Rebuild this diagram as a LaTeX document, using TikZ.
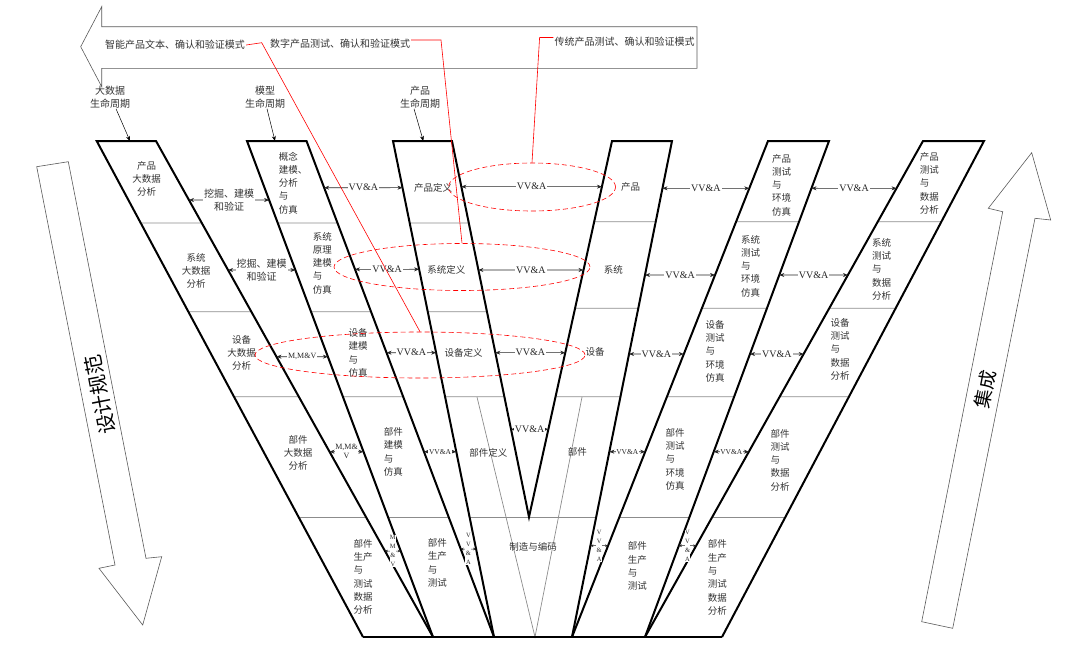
\documentclass[tikz,border=0pt]{standalone}
\usepackage{fontspec}
\setmainfont{Liberation Serif}
\newfontfamily\cjk{Noto Sans CJK SC}
\usepackage{tikz}
\usetikzlibrary{arrows.meta,
shapes.geometric
}
\tikzset{>={Stealth[length=5pt, width=4pt]}}
\tikzset{
  band/.style={line width=2pt, line join=miter},
  rowline/.style={black!45, line width=0.7pt},
  shell/.style={black!65, line width=0.6pt},
  vva/.style={<->, black!85, line width=0.6pt},
  vvs/.style={{Stealth[length=3pt, width=2.6pt]}-{Stealth[length=3pt, width=2.6pt]}, black!85, line width=0.5pt},
  tag/.style={fill=white, inner sep=1pt, font=\fontsize{10}{11}\selectfont},
  tagsm/.style={fill=white, inner sep=0.6pt, font=\fontsize{7.5}{8}\selectfont},
  tagm/.style={fill=white, inner sep=0.6pt, align=center, font=\fontsize{8}{9}\selectfont},
  tagv/.style={fill=white, inner sep=0.4pt, align=center, font=\fontsize{6.5}{9}\selectfont},
  cn/.style={inner sep=0pt, text=black!80, font=\cjk\fontsize{9.5}{13.3}\selectfont},
  cnc/.style={cn, align=center},
  cnl/.style={cn, align=left},
  cnlab/.style={fill=white, inner sep=1pt, align=center, text=black!80, font=\cjk\fontsize{10}{13.3}\selectfont},
  note/.style={inner sep=1pt, align=center, text=black!80, font=\cjk\fontsize{10}{13.3}\selectfont},
  leader/.style={red, line width=0.6pt},
  ring/.style={shape=ellipse, draw=red, dash pattern=on 5pt off 3pt, line width=0.6pt, inner sep=0pt},
  bigword/.style={inner sep=0pt, font=\cjk\fontsize{20}{20}\selectfont},
}

\begin{document}
\begin{tikzpicture}[x=1pt, y=-1pt]
  \useasboundingbox (0,0) rectangle (1080,645);

  % corners of the six bands
  \coordinate (b1tl) at (96.7,141);  \coordinate (b1tr) at (156,141);
  \coordinate (b1bl) at (363,637);   \coordinate (b1br) at (433,637);
  \coordinate (b2tl) at (247,141);   \coordinate (b2tr) at (306.5,141);
  \coordinate (b2bl) at (433,637);   \coordinate (b2br) at (494,637);
  \coordinate (b3tl) at (393,141);   \coordinate (b3tr) at (452,141);
  \coordinate (b3bl) at (494,637);   \coordinate (vtip) at (529,517);
  \coordinate (b4tl) at (612,141);   \coordinate (b4tr) at (672,141);
  \coordinate (b4br) at (572,637);
  \coordinate (b5tl) at (768,141);   \coordinate (b5tr) at (829,141);
  \coordinate (b5bl) at (572,637);   \coordinate (b5br) at (645,637);
  \coordinate (b6tl) at (923,141);   \coordinate (b6tr) at (984,141);
  \coordinate (b6bl) at (645,637);   \coordinate (b6br) at (722,637);

  % rows inside the bands
  \foreach \p/\q/\r/\s in {b1tl/b1bl/b1tr/b1br, b2tl/b2bl/b2tr/b2br}
    \foreach \y in {223, 311.7, 396.7, 517.5}
      \draw[rowline] (intersection of \p--{\q} and 0,\y--1,\y) -- (intersection of \r--{\s} and 0,\y--1,\y);
  \foreach \y in {223, 311.7, 396.7}
    \draw[rowline] (intersection of b3tl--b3bl and 0,\y--1,\y) -- (intersection of b3tr--vtip and 0,\y--1,\y);
  \foreach \y in {221.7, 308.3, 396.7}
    \draw[rowline] (intersection of b4tl--vtip and 0,\y--1,\y) -- (intersection of b4tr--b4br and 0,\y--1,\y);
  \foreach \p/\q/\r/\s in {b5tl/b5bl/b5tr/b5br, b6tl/b6bl/b6tr/b6br}
    \foreach \y in {221.7, 308.3, 396.7, 517.5}
      \draw[rowline] (intersection of \p--{\q} and 0,\y--1,\y) -- (intersection of \r--{\s} and 0,\y--1,\y);
  \draw[rowline] (intersection of b3tl--b3bl and 0,517.5--1,517.5) -- (intersection of b4tr--b4br and 0,517.5--1,517.5);

  % thin V under the definitions
  \coordinate (tv1) at (477,397);
  \coordinate (tv2) at (582,397);
  \coordinate (tvb) at (535,637);
  \draw[rowline] (tv1) -- (tvb) -- (tv2);

  % bands
  \draw[band] (b1bl) -- (b1tl) -- (b1tr) -- (b1br);
  \draw[band] (b2bl) -- (b2tl) -- (b2tr) -- (b2br);
  \draw[band] (b3bl) -- (b3tl) -- (b3tr) -- (vtip) -- (b4tl) -- (b4tr) -- (b4br);
  \draw[band] (b5bl) -- (b5tl) -- (b5tr) -- (b5br);
  \draw[band] (b6bl) -- (b6tl) -- (b6tr) -- (b6br);
  \draw[band] (b1bl) -- (b6br);

  % VV&A between bands
  \foreach \p/\q/\r/\s/\y/\n in {
      b2tr/b2br/b3tl/b3bl/187.7/a1, b2tr/b2br/b3tl/b3bl/269.3/a2, b2tr/b2br/b3tl/b3bl/352.7/a3,
      b3tr/vtip/b4tl/vtip/186.7/m1, b3tr/vtip/b4tl/vtip/270/m2, b3tr/vtip/b4tl/vtip/352.7/m3,
      b3tr/vtip/b4tl/vtip/429.3/m4,
      b4tr/b4br/b5tl/b5bl/188.3/c1, b4tr/b4br/b5tl/b5bl/275/c2, b4tr/b4br/b5tl/b5bl/354/c3,
      b5tr/b5br/b6tl/b6bl/188.3/d1, b5tr/b5br/b6tl/b6bl/275/d2, b5tr/b5br/b6tl/b6bl/354/d3}
  {
    \coordinate (l\n) at (intersection of \p--{\q} and 0,\y--1,\y);
    \coordinate (r\n) at (intersection of \r--{\s} and 0,\y--1,\y);
    \draw[vva] (l\n) -- node[tag] (vv\n) {VV\&A} (r\n);
  }
  \foreach \p/\q/\r/\s/\y/\n in {
      b2tr/b2br/b3tl/b3bl/451.7/a4, b4tr/b4br/b5tl/b5bl/451.7/c4, b5tr/b5br/b6tl/b6bl/451.7/d4}
  {
    \coordinate (l\n) at (intersection of \p--{\q} and 0,\y--1,\y);
    \coordinate (r\n) at (intersection of \r--{\s} and 0,\y--1,\y);
    \draw[vva] (l\n) -- node[tagsm] (vv\n) {VV\&A} (r\n);
  }
  \foreach \p/\q/\r/\s/\y/\n in {
      b2tr/b2br/b3tl/b3bl/549/a5, b4tr/b4br/b5tl/b5bl/545.7/c5, b5tr/b5br/b6tl/b6bl/545.7/d5}
  {
    \coordinate (l\n) at (intersection of \p--{\q} and 0,\y--1,\y);
    \coordinate (r\n) at (intersection of \r--{\s} and 0,\y--1,\y);
    \draw[vvs] (l\n) -- node[tagv] (vv\n) {V\\V\\\&\\A} (r\n);
  }

  % mining and M,M&V between the first two bands
  \coordinate (k1l) at (intersection of b1tr--b1br and 0,200--1,200);
  \coordinate (k1r) at (intersection of b2tl--b2bl and 0,200--1,200);
  \draw[vva] (k1l) -- node[cnlab] (mine1) {挖掘、建模\\和验证} (k1r);
  \coordinate (k2l) at (intersection of b1tr--b1br and 0,270--1,270);
  \coordinate (k2r) at (intersection of b2tl--b2bl and 0,270--1,270);
  \draw[vva] (k2l) -- node[cnlab] (mine2) {挖掘、建模\\和验证} (k2r);
  \coordinate (k3l) at (intersection of b1tr--b1br and 0,356.7--1,356.7);
  \coordinate (k3r) at (intersection of b2tl--b2bl and 0,356.7--1,356.7);
  \draw[vva] (k3l) -- node[tagm] (mmv3) {M,M\&V} (k3r);
  \coordinate (k4l) at (intersection of b1tr--b1br and 0,451.7--1,451.7);
  \coordinate (k4r) at (intersection of b2tl--b2bl and 0,451.7--1,451.7);
  \draw[vva] (k4l) -- node[tagm] (mmv4) {M,M\&\\V} (k4r);
  \coordinate (k5l) at (intersection of b1tr--b1br and 0,551--1,551);
  \coordinate (k5r) at (intersection of b2tl--b2bl and 0,551--1,551);
  \draw[vvs] (k5l) -- node[tagv] (mmv5) {M\\M\\\&\\V} (k5r);

  % big data band
  \node[cnc] (p1r1) at (146.7,179) {产品\\大数据\\分析};
  \node[cnc] (p1r2) at (196,270.7) {系统\\大数据\\分析};
  \node[cnc] (p1r3) at (241.7,353) {设备\\大数据\\分析};
  \node[cnc] (p1r4) at (298,453) {部件\\大数据\\分析};
  \node[cnl] (p1r5) at (363,577) {部件\\生产\\与\\测试\\数据\\分析};
  % model band
  \node[cnl] (p2r1) at (293,183) {概念\\建模、\\分析\\与\\仿真};
  \node[cnl] (p2r2) at (322.4,263) {系统\\原理\\建模\\与\\仿真};
  \node[cnl] (p2r3) at (358,353) {设备\\建模\\与\\仿真};
  \node[cnl] (p2r4) at (393.3,452) {部件\\建模\\与\\仿真};
  \node[cnl] (p2r5) at (437.3,563) {部件\\生产\\与\\测试};
  % definitions and products
  \node[cn] (p3r1) at (433,187.7) {产品定义};
  \node[cn] (p3r2) at (446.4,270) {系统定义};
  \node[cn] (p3r3) at (463.6,352.7) {设备定义};
  \node[cn] (p3r4) at (488.3,453.3) {部件定义};
  \node[cn] (p3r5) at (533,547) {制造与编码};
  \node[cn] (p4r1) at (630.7,186.7) {产品};
  \node[cn] (p4r2) at (613.3,270) {系统};
  \node[cn] (p4r3) at (595,351.7) {设备};
  \node[cn] (p4r4) at (577.3,451.7) {部件};
  % test bands
  \node[cnl] (p5r1) at (781.7,185) {产品\\测试\\与\\环境\\仿真};
  \node[cnl] (p5r2) at (750.7,266) {系统\\测试\\与\\环境\\仿真};
  \node[cnl] (p5r3) at (715,351.3) {设备\\测试\\与\\环境\\仿真};
  \node[cnl] (p5r4) at (675,459.3) {部件\\测试\\与\\环境\\仿真};
  \node[cnl] (p5r5) at (637.3,566.3) {部件\\生产\\与\\测试};
  \node[cnl] (p6r1) at (929.3,183.3) {产品\\测试\\与\\数据\\分析};
  \node[cnl] (p6r2) at (881.7,269.3) {系统\\测试\\与\\数据\\分析};
  \node[cnl] (p6r3) at (840,349.3) {设备\\测试\\与\\数据\\分析};
  \node[cnl] (p6r4) at (780,460) {部件\\测试\\与\\数据\\分析};
  \node[cnl] (p6r5) at (717.3,577.5) {部件\\生产\\与\\测试\\数据\\分析};

  % life cycles
  \node[note, inner sep=0pt] (lc1) at (110,97.3) {大数据\\生命周期};
  \node[note, inner sep=0pt] (lc2) at (265,97.3) {模型\\生命周期};
  \node[note, inner sep=0pt] (lc3) at (420,97.3) {产品\\生命周期};
  \coordinate (b1in) at (130,141);
  \coordinate (b2in) at (275,141);
  \coordinate (b3in) at (423.3,141);
  \draw[->, line width=0.5pt] ([xshift=6pt]lc1.south) -- (b1in);
  \draw[->, line width=0.5pt] ([xshift=2pt]lc2.south) -- (b2in);
  \draw[->, line width=0.5pt] ([xshift=-6pt]lc3.south) -- (b3in);

  % top arrow with the three modes
  \draw[shell] (697,26.7) -- (101.7,26.7) -- (101.7,6.7) -- (80.7,46.7)
    -- (101.7,86.7) -- (101.7,68.3) -- (697,68.3) -- cycle;
  \node[note] (t1) at (175,45) {智能产品文本、确认和验证模式};
  \node[note] (t2) at (340,43.3) {数字产品测试、确认和验证模式};
  \node[note] (t3) at (624.5,41.7) {传统产品测试、确认和验证模式};

  % dashed rings and red leaders
  \node[ring, minimum width=167pt, minimum height=48pt] (ring1) at (532,187) {};
  \node[ring, minimum width=256pt, minimum height=47pt] (ring2) at (462,267) {};
  \node[ring, minimum width=330pt, minimum height=46pt] (ring3) at (420,355) {};
  \coordinate (k1) at (261.7,42.7);
  \coordinate (k2) at (441,40);
  \coordinate (k3) at (539.6,37.5);
  \draw[leader] (t1.east) -- (k1) -- (ring3.north);
  \draw[leader] (t2.east |- k2) -- (k2) -- (ring2.north);
  \draw[leader] (t3.west |- k3) -- (k3) -- (ring1.north);

  % side arrows
  \draw[shell] (36.7,166.7) -- (68.3,161.7) -- (146,558.3) -- (161.7,556.7)
    -- (142.7,625) -- (99,568.3) -- (115,565) -- cycle;
  \node[bigword, rotate=101] (design) at (100,395) {设计规范};
  \draw[shell] (921.7,621.7) -- (952.7,628.3) -- (1035,218.3) -- (1050.7,220)
    -- (1031.7,152.7) -- (988.3,208.3) -- (1002.7,211.7) -- cycle;
  \node[bigword, rotate=79, font=\cjk\fontsize{19}{19}\selectfont] (integ) at (985,389) {集成};
\end{tikzpicture}
\end{document}
